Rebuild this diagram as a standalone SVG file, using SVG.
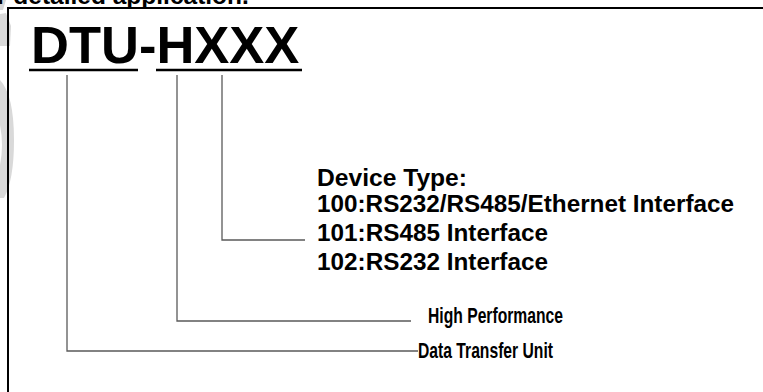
<svg xmlns="http://www.w3.org/2000/svg" width="763" height="392" viewBox="0 0 763 392">
<style>
.t{font-family:"Liberation Sans",Arial,sans-serif;font-weight:bold;fill:#000}
.c{fill:none;stroke:#5a5a5a;stroke-width:1.3}
.u{stroke:#000;stroke-width:2.5}
</style>
<rect width="763" height="392" fill="#fff"/>
<g id="watermark" fill="#d9d9d9">
<path d="M0,0 L6,0 L3,10 L0,10 Z"/>
<path d="M0,14 L6,13 L11,26 L10,46 L0,46 Z"/>
<path d="M0,80 Q14,95 14,140 Q14,180 4,198 L0,198 L0,165 Q4,145 0,125 Z"/>
</g>
<text class="t" x="-3" y="4" font-size="24.5" fill="#222">r detailed application.</text>
<rect id="frame" x="8" y="8" width="770" height="400" fill="none" stroke="#000" stroke-width="2"/>
<g id="title">
<text class="t" x="31" y="63" font-size="52.5">DTU-HXXX</text>
<line class="u" x1="29" y1="70" x2="138" y2="70"/>
<line class="u" x1="156" y1="70" x2="302" y2="70"/>
</g>
<g id="connectors">
<polyline class="c" points="222,75 222,240 305,240"/>
<polyline class="c" points="177,75 177,321 411,321"/>
<polyline class="c" points="67,75 67,351 418,351"/>
</g>
<g id="device-type">
<text class="t" x="317" y="186" font-size="23" textLength="150" lengthAdjust="spacingAndGlyphs">Device Type:</text>
<text class="t" x="317" y="212" font-size="23" textLength="417" lengthAdjust="spacingAndGlyphs">100:RS232/RS485/Ethernet Interface</text>
<text class="t" x="317" y="241" font-size="23" textLength="231" lengthAdjust="spacingAndGlyphs">101:RS485 Interface</text>
<text class="t" x="317" y="270" font-size="23" textLength="231" lengthAdjust="spacingAndGlyphs">102:RS232 Interface</text>
</g>
<g id="high-performance">
<text class="t" x="428" y="323" font-size="22.5" textLength="135" lengthAdjust="spacingAndGlyphs">High Performance</text>
</g>
<g id="data-transfer-unit">
<text class="t" x="418" y="358" font-size="22.5" textLength="135" lengthAdjust="spacingAndGlyphs">Data Transfer Unit</text>
</g>
</svg>
